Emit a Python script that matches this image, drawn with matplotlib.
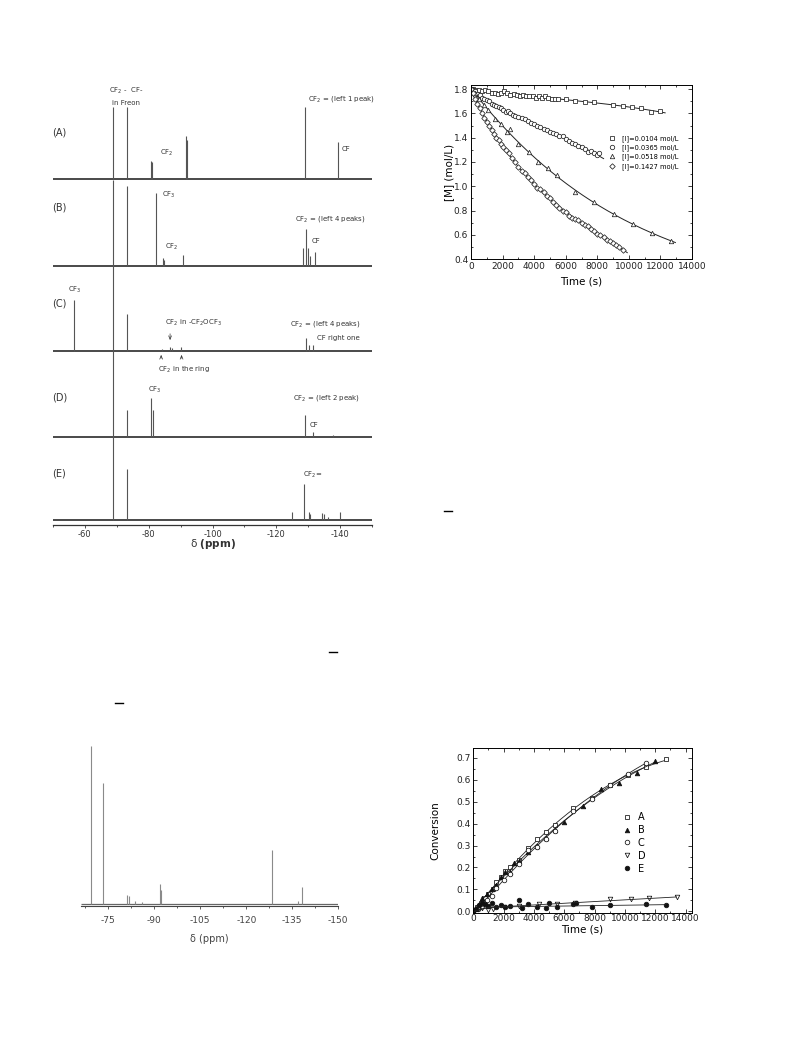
import numpy as np
import matplotlib
matplotlib.use("Agg")
import matplotlib.pyplot as plt
from matplotlib.lines import Line2D
from matplotlib.ticker import MultipleLocator

plt.rcParams['font.family'] = ['DejaVu Sans']
plt.rcParams['axes.unicode_minus'] = False

# ---------------- Panel 1: stacked 19F NMR spectra (A)-(E) ----------------
trace_names = ["(A)", "(B)", "(C)", "(D)", "(E)"]
trace_base = [345.5, 259, 174, 88, 5]
peaks_A = [-68.9, -73.1, -80.8, -81.1, -91.6, -92.0, -129.0, -139.2]
heights_A = [72, 72, 18, 17, 43, 39, 72, 37]
peaks_B = [-68.9, -73.1, -82.2, -84.4, -84.7, -90.9, -128.5, -129.2, -130.0, -130.6, -132.1]
heights_B = [86, 80, 73, 8, 6, 11, 18, 37, 18, 10, 14]
peaks_C = [-56.7, -68.9, -73.1, -84.1, -86.7, -87.2, -90.1, -129.3, -130.3, -131.4]
heights_C = [51, 85, 37, 2, 4, 3, 4, 13, 6, 6]
peaks_D = [-68.9, -73.1, -80.7, -81.4, -129.0, -131.4, -137.8]
heights_D = [86, 27, 39, 27, 22, 5, 2]
peaks_E = [-68.9, -73.1, -124.8, -128.7, -130.3, -130.6, -134.2, -135.0, -136.1, -140.0]
heights_E = [83, 51, 8, 36, 8, 6, 7, 6, 3, 8]
spec_ticks = [-60, -80, -100, -120, -140]

# ---------------- Panel 2: [M] vs time ----------------
t_sq = [0, 150, 300, 500, 700, 900, 1100, 1300, 1500, 1700, 1900, 2100, 2300, 2500, 2700, 2900,
        3100, 3300, 3500, 3700, 3900, 4100, 4300, 4500, 4700, 4900, 5100, 5300, 5500, 6000,
        6600, 7200, 7800, 9000, 9600, 10200, 10800, 11400, 12000]
m_sq = [1.80, 1.80, 1.79, 1.79, 1.78, 1.79, 1.78, 1.77, 1.77, 1.76, 1.77, 1.78, 1.77, 1.75, 1.76, 1.75,
        1.74, 1.75, 1.74, 1.74, 1.74, 1.73, 1.74, 1.73, 1.74, 1.73, 1.72, 1.72, 1.72, 1.72,
        1.70, 1.69, 1.69, 1.67, 1.66, 1.65, 1.64, 1.61, 1.62]
t_ci = [0, 100, 250, 400, 550, 700, 850, 1000, 1150, 1300, 1450, 1600, 1750, 1900, 2050, 2200,
        2350, 2500, 2650, 2800, 3000, 3200, 3400, 3600, 3800, 4000, 4200, 4400, 4600, 4800, 5000,
        5200, 5400, 5600, 5800, 6000, 6200, 6400, 6600, 6800, 7000, 7200, 7400, 7600, 7800, 8000, 8100]
m_ci = [1.80, 1.79, 1.78, 1.76, 1.75, 1.73, 1.72, 1.71, 1.70, 1.68, 1.67, 1.66, 1.65, 1.64, 1.63, 1.61,
        1.62, 1.60, 1.59, 1.58, 1.57, 1.56, 1.55, 1.54, 1.52, 1.51, 1.50, 1.49, 1.47, 1.46, 1.45,
        1.44, 1.43, 1.41, 1.41, 1.39, 1.37, 1.36, 1.35, 1.33, 1.32, 1.31, 1.28, 1.29, 1.27, 1.26, 1.27]
t_tr = [0, 250, 500, 800, 1100, 1550, 1900, 2250, 2450, 3000, 3700, 4250, 4900, 5450, 6600,
        7800, 9050, 10250, 11450, 12650]
m_tr = [1.80, 1.77, 1.72, 1.67, 1.63, 1.55, 1.51, 1.45, 1.47, 1.35, 1.28, 1.20, 1.15, 1.09, 0.95,
        0.87, 0.77, 0.69, 0.62, 0.55]
t_di = [0, 100, 250, 400, 550, 700, 850, 1000, 1150, 1300, 1450, 1600, 1750, 1900, 2050, 2200,
        2400, 2600, 2800, 3000, 3200, 3400, 3600, 3800, 4000, 4200, 4400, 4600, 4800, 5000, 5200,
        5400, 5600, 5800, 6000, 6200, 6400, 6600, 6800, 7000, 7200, 7400, 7600, 7800, 8000, 8200,
        8400, 8600, 8800, 9000, 9200, 9400, 9600]
m_di = [1.80, 1.77, 1.72, 1.68, 1.64, 1.60, 1.56, 1.53, 1.50, 1.46, 1.43, 1.40, 1.38, 1.35, 1.32, 1.30,
        1.27, 1.23, 1.20, 1.16, 1.13, 1.11, 1.08, 1.05, 1.02, 0.99, 0.98, 0.95, 0.92, 0.90, 0.87,
        0.85, 0.82, 0.80, 0.79, 0.76, 0.74, 0.73, 0.72, 0.70, 0.68, 0.67, 0.65, 0.63, 0.61, 0.60,
        0.58, 0.56, 0.55, 0.53, 0.52, 0.50, 0.48]
m_labels = ["[I]=0.0104 mol/L", "[I]=0.0365 mol/L", "[I]=0.0518 mol/L", "[I]=0.1427 mol/L"]

# ---------------- Panel 3: single spectrum ----------------
peaks_S = [-69.4, -73.2, -81.2, -81.6, -83.7, -85.9, -91.9, -92.2, -128.3, -136.8, -138.3]
heights_S = [158, 121, 9, 8, 3, 2, 20, 14, 54, 3, 17]
spec2_ticks = [-75, -90, -105, -120, -135, -150]

# ---------------- Panel 4: conversion vs time ----------------
t_A = [0, 250, 500, 750, 1000, 1300, 1500, 1800, 2100, 2400, 3000, 3600, 4200, 4800, 5400,
       6600, 7800, 9000, 10200, 11400, 12700]
c_A = [0, 0.02, 0.04, 0.06, 0.08, 0.10, 0.135, 0.155, 0.185, 0.20, 0.235, 0.29, 0.33, 0.36, 0.395,
       0.47, 0.515, 0.575, 0.62, 0.655, 0.695]
t_B = [0, 300, 600, 900, 1200, 1500, 1800, 2100, 2400, 2700, 3000, 3600, 4200, 4800, 5400, 6000,
       7200, 8400, 9600, 10800, 12000]
c_B = [0, 0.02, 0.06, 0.08, 0.10, 0.12, 0.155, 0.18, 0.18, 0.22, 0.23, 0.27, 0.30, 0.335, 0.37, 0.405,
       0.48, 0.555, 0.585, 0.63, 0.685]
t_C = [0, 300, 600, 900, 1200, 1500, 2000, 2400, 3000, 3600, 4200, 4800, 5400, 6600, 7800, 9000,
       10200, 11400]
c_C = [0, 0.01, 0.03, 0.05, 0.07, 0.105, 0.145, 0.17, 0.215, 0.28, 0.295, 0.33, 0.365, 0.455, 0.51,
       0.575, 0.625, 0.675]
t_D = [0, 300, 600, 1000, 1300, 2000, 3000, 4300, 5500, 6700, 9000, 10400, 11600, 13400]
c_D = [0, 0.01, 0.015, 0.005, 0.01, 0.02, 0.025, 0.033, 0.035, 0.04, 0.055, 0.056, 0.06, 0.067]
t_E = [0, 200, 400, 600, 800, 1000, 1200, 1500, 1800, 2100, 2400, 3000, 3200, 3600, 4200, 4800,
       5000, 5500, 6600, 6800, 7800, 9000, 11400, 12700]
c_E = [0, 0.01, 0.03, 0.04, 0.035, 0.025, 0.04, 0.02, 0.03, 0.02, 0.025, 0.05, 0.015, 0.035, 0.02,
       0.015, 0.04, 0.02, 0.035, 0.04, 0.02, 0.03, 0.035, 0.03]
fitD_t = [0, 1000, 13400]
fitD_c = [0, 0.018, 0.066]
fitE_t = [0, 1000, 12700]
fitE_c = [0, 0.02, 0.031]
conv_labels = ["A", "B", "C", "D", "E"]

W, H = 793, 1059
fig = plt.figure(figsize=(W / 100, H / 100), dpi=100)


def ax_px(left, top, right, bottom):
    return fig.add_axes([left / W, 1 - bottom / H, (right - left) / W, (bottom - top) / H])


# ======== Panel 1 ========
ax1 = ax_px(53, 90, 372, 525)
ax1.set_xlim(-50, -150)
ax1.set_ylim(0, 435)
for s in ["left", "right", "top"]:
    ax1.spines[s].set_visible(False)
ax1.spines["bottom"].set_linewidth(0.9)
ax1.spines["bottom"].set_color("#333333")
ax1.set_yticks([])
ax1.set_xticks(spec_ticks)
ax1.xaxis.set_minor_locator(MultipleLocator(10))
ax1.tick_params(axis="x", direction="out", length=2.5, width=0.6, labelsize=6, pad=1,
                colors="#333333")
ax1.tick_params(axis="x", which="minor", direction="out", length=1.5, width=0.6, colors="#333333")
all_peaks = [peaks_A, peaks_B, peaks_C, peaks_D, peaks_E]
all_heights = [heights_A, heights_B, heights_C, heights_D, heights_E]
for name, base, pk, hh in zip(trace_names, trace_base, all_peaks, all_heights):
    ax1.hlines(base, -50, -150, color="#3a3a3a", lw=1.3)
    ax1.vlines(pk, base, np.array(hh) + base, color="#555555", lw=0.8)
tx_kw = dict(fontsize=5, color="#333333", va="center", ha="left")
lab_kw = dict(fontsize=7, color="#333333", va="center", ha="left")
for name, yy in zip(trace_names, [392, 318, 222, 128, 52]):
    ax1.text(-49.7, yy, name, **lab_kw)
ax1.text(-72.9, 434, "CF$_2$ -  CF-", fontsize=5, color="#333333", ha="center", va="center")
ax1.text(-72.9, 422, "in Freon", fontsize=5, color="#333333", ha="center", va="center")
ax1.text(-83.5, 372, "CF$_2$", **tx_kw)
ax1.text(-129.9, 426, "CF$_2$ = (left 1 peak)", **tx_kw)
ax1.text(-140.6, 376, "CF", **tx_kw)
ax1.text(-84.2, 330, "CF$_3$", **tx_kw)
ax1.text(-85.1, 278, "CF$_2$", **tx_kw)
ax1.text(-125.9, 306, "CF$_2$ = (left 4 peaks)", **tx_kw)
ax1.text(-131.2, 284, "CF", **tx_kw)
ax1.text(-54.7, 235, "CF$_3$", **tx_kw)
ax1.text(-85.1, 202, "CF$_2$ in -CF$_2$OCF$_3$", **tx_kw)
ax1.text(-124.3, 201, "CF$_2$ = (left 4 peaks)", **tx_kw)
ax1.text(-132.8, 187, "CF right one", **tx_kw)
ax1.text(-82.9, 155, "CF$_2$ in the ring", **tx_kw)
ax1.text(-79.8, 135, "CF$_3$", **tx_kw)
ax1.text(-125.2, 127, "CF$_2$ = (left 2 peak)", **tx_kw)
ax1.text(-130.6, 100, "CF", **tx_kw)
ax1.text(-128.4, 50, "CF$_2$=", **tx_kw)
arrow_kw = dict(arrowstyle="->,head_length=0.25,head_width=0.1", color="#333333", lw=0.5)
ax1.annotate("", xy=(-86.7, 182), xytext=(-86.7, 194), arrowprops=arrow_kw)
ax1.annotate("", xy=(-83.9, 173), xytext=(-83.9, 164), arrowprops=arrow_kw)
ax1.annotate("", xy=(-90.3, 173), xytext=(-90.3, 164), arrowprops=arrow_kw)
ax1.set_xlabel(r"δ $\mathbf{(ppm)}$", fontsize=7.5, color="#333333", labelpad=-1)

# ======== Panel 2 ========
ax2 = ax_px(471, 85, 692, 259.3)
ax2.set_xlim(0, 14000)
ax2.set_ylim(0.4, 1.833)
series2 = [(t_sq, m_sq, "s"), (t_ci, m_ci, "o"), (t_tr, m_tr, "^"), (t_di, m_di, "D")]
handles2 = []
for (tt, mm, mk), lab in zip(series2, m_labels):
    tt = np.array(tt, float)
    mm = np.array(mm, float)
    coef = np.polyfit(tt, mm, 3)
    tf = np.linspace(0, tt.max() + 300, 200)
    ax2.plot(tf, np.polyval(coef, tf), color="#222222", lw=0.7)
    ms = 3.2 if mk != "D" else 2.8
    ax2.plot(tt, mm, ls="none", marker=mk, mfc="white", mec="#222222", mew=0.55, ms=ms)
    handles2.append(Line2D([], [], ls="none", marker=mk, mfc="white", mec="#222222", mew=0.55, ms=ms,
                           label=lab))
ax2.legend(handles=handles2, loc="upper left", bbox_to_anchor=(0.61, 0.73), frameon=False,
           fontsize=4.8, handlelength=1.0, handletextpad=0.9, labelspacing=0.36, borderpad=0)
ax2.set_xticks(np.arange(0, 14001, 2000))
ax2.set_yticks(np.arange(0.4, 1.81, 0.2))
ax2.set_yticklabels([f"{v:.1f}" for v in np.arange(0.4, 1.81, 0.2)])
ax2.xaxis.set_minor_locator(MultipleLocator(1000))
ax2.yaxis.set_minor_locator(MultipleLocator(0.1))
ax2.tick_params(which="both", direction="in", top=True, right=True, width=0.6, labelsize=6.5,
                pad=2, colors="#222222")
ax2.tick_params(which="major", length=3)
ax2.tick_params(which="minor", length=1.5)
for s in ax2.spines.values():
    s.set_linewidth(0.7)
ax2.set_xlabel("Time (s)", fontsize=7.5, labelpad=4)
ax2.set_ylabel("[M] (mol/L)", fontsize=7.5, labelpad=-0.5)

# ======== Panel 3 ========
ax3 = ax_px(80.7, 746, 338.3, 906)
ax3.set_xlim(-66, -150)
ax3.set_ylim(0, 160)
for s in ["left", "right", "top"]:
    ax3.spines[s].set_visible(False)
ax3.spines["bottom"].set_linewidth(0.8)
ax3.spines["bottom"].set_color("#444444")
ax3.set_yticks([])
ax3.set_xticks(spec2_ticks)
ax3.xaxis.set_minor_locator(MultipleLocator(7.5))
ax3.tick_params(axis="x", direction="out", length=2.5, width=0.6, labelsize=6.5, pad=5,
                colors="#444444")
ax3.tick_params(axis="x", which="minor", direction="out", length=1.5, width=0.6, colors="#444444")
ax3.hlines(2, -66, -150, color="#666666", lw=0.9)
ax3.vlines(peaks_S, 2, np.array(heights_S) + 2, color="#8a8a8a", lw=0.8)
ax3.set_xlabel("δ (ppm)", fontsize=7, color="#444444", labelpad=6)

# ======== Panel 4 ========
ax4 = ax_px(473.3, 747.7, 691.7, 913)
ax4.set_xlim(0, 14400)
ax4.set_ylim(-0.007, 0.745)
series4 = [(t_A, c_A, "s", "white"), (t_B, c_B, "^", "#111111"), (t_C, c_C, "o", "white"),
           (t_D, c_D, "v", "white"), (t_E, c_E, "o", "#111111")]
handles4 = []
for i, ((tt, cc, mk, fc), lab) in enumerate(zip(series4, conv_labels)):
    tt = np.array(tt, float)
    cc = np.array(cc, float)
    if i < 3:
        coef = np.polyfit(tt, cc, 2)
        tf = np.linspace(0, tt.max(), 200)
        ax4.plot(tf, np.polyval(coef, tf), color="#222222", lw=0.6)
    ms = 3.3
    ax4.plot(tt, cc, ls="none", marker=mk, mfc=fc, mec="#111111", mew=0.55, ms=ms)
    handles4.append(Line2D([], [], ls="none", marker=mk, mfc=fc, mec="#111111", mew=0.55, ms=ms,
                           label=lab))
ax4.plot(fitD_t, fitD_c, color="#222222", lw=0.6)
ax4.plot(fitE_t, fitE_c, color="#222222", lw=0.6)
ax4.legend(handles=handles4, loc="upper left", bbox_to_anchor=(0.66, 0.64), frameon=False,
           fontsize=7, handlelength=1.0, handletextpad=0.6, labelspacing=0.3, borderpad=0)
ax4.set_xticks(np.arange(0, 14001, 2000))
ax4.set_yticks(np.arange(0, 0.71, 0.1))
ax4.set_yticklabels([f"{v:.1f}" for v in np.arange(0, 0.71, 0.1)])
ax4.xaxis.set_minor_locator(MultipleLocator(1000))
ax4.yaxis.set_minor_locator(MultipleLocator(0.05))
ax4.tick_params(which="both", direction="in", top=True, right=True, width=0.6, labelsize=6.5,
                pad=2, colors="#222222")
ax4.tick_params(axis="x", which="major", pad=1)
ax4.tick_params(which="major", length=3)
ax4.tick_params(which="minor", length=1.5)
for s in ax4.spines.values():
    s.set_linewidth(0.7)
ax4.set_xlabel("Time (s)", fontsize=7.5, labelpad=0.5)
ax4.set_ylabel("Conversion", fontsize=7.5, labelpad=11)

# stray overbars from the page
for (x1, x2, y) in [(444, 452, 511), (329, 337, 652), (115, 123, 703)]:
    fig.add_artist(Line2D([x1 / W, x2 / W], [1 - y / H, 1 - y / H], transform=fig.transFigure,
                          color="black", lw=1.0))

fig.savefig("out.png", dpi=100)
